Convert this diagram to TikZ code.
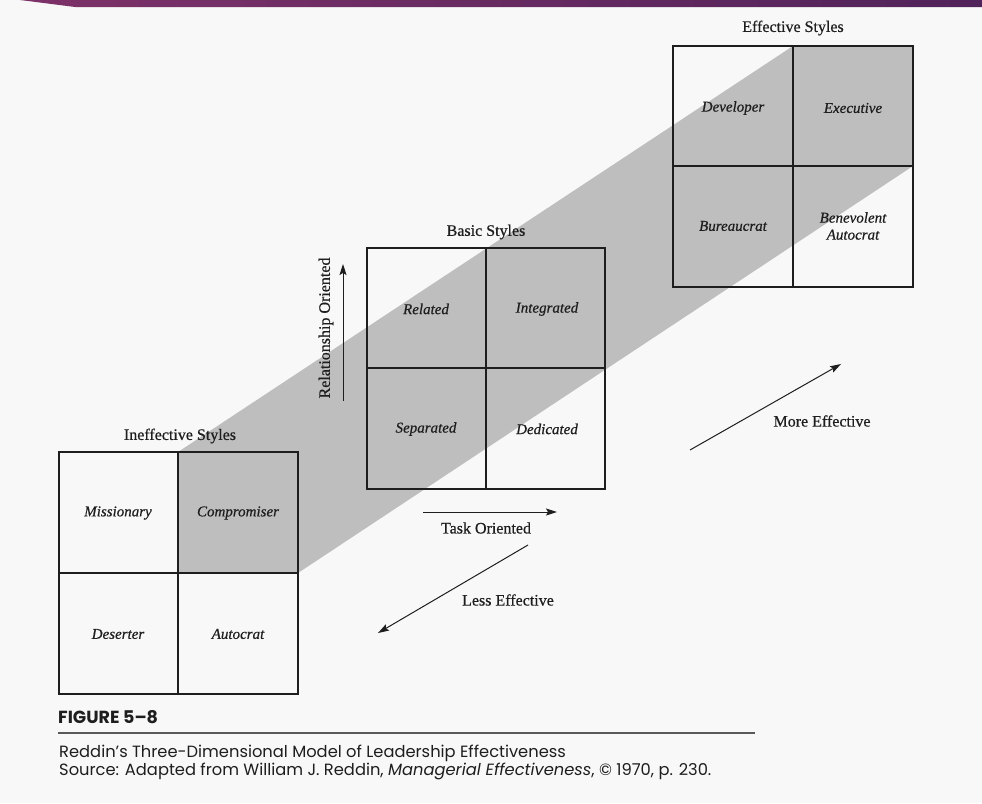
\documentclass[tikz,border=0pt]{standalone}
\usepackage{fontspec}
\setmainfont{Liberation Serif}[FakeBold=0.6]
\newfontfamily\capfont{Poppins}
\usetikzlibrary{arrows.meta}
\definecolor{pagebg}{RGB}{248,248,248}
\definecolor{bandgray}{RGB}{190,190,190}
\definecolor{ink}{RGB}{30,30,30}
\definecolor{purpleL}{RGB}{125,50,105}
\definecolor{purpleR}{RGB}{80,35,90}
\begin{document}
\begin{tikzpicture}[x=1pt,y=-1pt,
  gridline/.style={draw=ink, line width=1.1pt},
  cell/.style={font=\fontsize{15}{17}\selectfont\itshape, text=ink, align=center},
  ttl/.style={font=\fontsize{16}{18}\selectfont, text=ink},
  axis/.style={-{Stealth[length=11pt,width=7pt,inset=2pt]}, line width=1pt, draw=ink}]
\useasboundingbox (0,0) rectangle (982,803);
\fill[pagebg] (0,0) rectangle (982,803);
\shade[left color=purpleL, right color=purpleR] (20,0) -- (982,0) -- (982,7) -- (75,7) -- cycle;
% band
\fill[bandgray] (178,452) -- (178,573) -- (298,573) -- (913,166) -- (913,46) -- (793,46) -- cycle;
% Ineffective grid
\draw[gridline] (59,452) rectangle (298,694);
\draw[gridline] (178,452) -- (178,694);
\draw[gridline] (59,573) -- (298,573);
% Basic grid
\draw[gridline] (367,248) rectangle (605,489);
\draw[gridline] (486,248) -- (486,489);
\draw[gridline] (367,368) -- (605,368);
% Effective grid
\draw[gridline] (673,46) rectangle (913,287);
\draw[gridline] (793,46) -- (793,287);
\draw[gridline] (673,166) -- (913,166);
% titles
\node[ttl] (tIn) at (180,436) {Ineffective Styles};
\node[ttl] (tBa) at (486,232) {Basic Styles};
\node[ttl] (tEf) at (793,28) {Effective Styles};
% cells
\node[cell] (miss) at (118,513) {Missionary};
\node[cell] (comp) at (238,513) {Compromiser};
\node[cell] (dese) at (118,634) {Deserter};
\node[cell] (auto) at (238,634) {Autocrat};
\node[cell] (rela) at (426,309) {Related};
\node[cell] (inte) at (547,309) {Integrated};
\node[cell] (sepa) at (426,429) {Separated};
\node[cell] (dedi) at (547,429) {Dedicated};
\node[cell] (deve) at (733,108) {Developer};
\node[cell] (exec) at (853,108) {Executive};
\node[cell] (bure) at (733,226) {Bureaucrat};
\node[cell] (bene) at (853,226) {Benevolent\\Autocrat};
% axes
\coordinate (rA) at (343,401);
\coordinate (rB) at (343,264);
\draw[axis] (rA) -- (rB);
\node[ttl, rotate=90] (rel) at (326,328) {Relationship Oriented};
\coordinate (tA) at (423,512);
\coordinate (tB) at (557,512);
\draw[axis] (tA) -- (tB);
\node[ttl] (task) at (486,528) {Task Oriented};
\coordinate (lA) at (528,545);
\coordinate (lB) at (378,633);
\draw[axis] (lA) -- (lB);
\node[ttl] (less) at (508,600) {Less Effective};
\coordinate (mA) at (690,450);
\coordinate (mB) at (841,364);
\draw[axis] (mA) -- (mB);
\node[ttl] (more) at (822,421) {More Effective};
% caption
\node[anchor=west, inner sep=0pt, font=\capfont\bfseries\fontsize{17.5}{19}\selectfont, text=ink] (fig) at (58,717) {FIGURE 5–8};
\coordinate (ruleA) at (58,733);
\coordinate (ruleB) at (755,733);
\draw[line width=2.2pt, draw=black!65] (ruleA) -- (ruleB);
\node[anchor=west, inner sep=0pt, font=\capfont\fontsize{16.3}{18}\selectfont, text=ink] (cap1) at (59,753) {Reddin’s Three-Dimensional Model of Leadership Effectiveness};
\node[anchor=west, inner sep=0pt, font=\capfont\fontsize{16.3}{18}\selectfont, text=ink] (cap2) at (59,771) {Source: Adapted from William J. Reddin, \textit{Managerial Effectiveness}, © 1970, p. 230.};
\end{tikzpicture}
\end{document}
